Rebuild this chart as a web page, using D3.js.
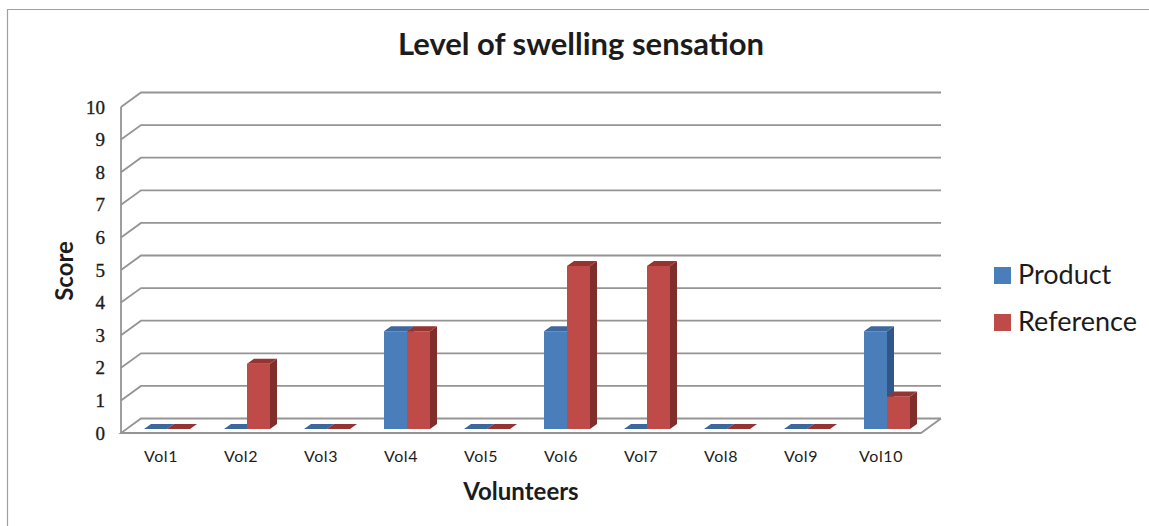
<!DOCTYPE html>
<html>
<head>
<meta charset="utf-8">
<script src="https://cdn.jsdelivr.net/npm/d3@7"></script>
<style>
  html, body { margin: 0; padding: 0; background: #fff; overflow: hidden; }
  text { fill: #1c1c1c; }
</style>
</head>
<body>
<svg id="chart" width="1149" height="526"></svg>
<script>
const categories = ["Vol1", "Vol2", "Vol3", "Vol4", "Vol5", "Vol6", "Vol7", "Vol8", "Vol9", "Vol10"];
const series_names = ["Product", "Reference"];
const product_values = [0, 0, 0, 3, 0, 3, 0, 0, 0, 3];
const reference_values = [0, 2, 0, 3, 0, 5, 5, 0, 0, 1];
const y_ticks = [0, 1, 2, 3, 4, 5, 6, 7, 8, 9, 10];

const width = 1149;
const height = 526;
const grid_color = "#949494";
const label_font = "'Liberation Serif', serif";
const title_font = "Lato, 'Open Sans', sans-serif";

// how far the back wall and the bars are pushed back by the fake 3d
const wall = { dx: 20, dy: -14.5 };
const bar_shift = { dx: 6, dy: -4 };
const bar_depth = { dx: 7, dy: -5 };

const colors = {
  Product: { front: "#4a7ebb", top: "#3c689f", side: "#2f5788" },
  Reference: { front: "#be4b48", top: "#963432", side: "#7f2e2c" },
};

const svg = d3.select("#chart");

const x = d3
  .scaleBand()
  .domain(categories)
  .range([121, 921])
  .paddingInner(0.425)
  .paddingOuter(0.2125);

const x_inner = d3
  .scaleBand()
  .domain(series_names)
  .range([0, x.bandwidth()]);

const y = d3.scaleLinear().domain([0, 10]).range([433, 107]);

// outer frame, only the top and left edges show in the picture
svg
  .append("path")
  .attr("d", d3.line()([[7.5, height], [7.5, 9.5], [width, 9.5]]))
  .attr("fill", "none")
  .attr("stroke", "#a0a0a0")
  .attr("stroke-width", 1.2);

// walls
const walls = svg.append("g").attr("fill", "none").attr("stroke", grid_color).attr("stroke-width", 1.8);
y_ticks.forEach((t) => {
  if (t === 0) return;
  walls
    .append("path")
    .attr(
      "d",
      d3.line()([
        [x.range()[0], y(t)],
        [x.range()[0] + wall.dx, y(t) + wall.dy],
        [x.range()[1] + wall.dx, y(t) + wall.dy],
      ])
    );
});

// floor
walls
  .append("path")
  .attr(
    "d",
    d3.line()([
      [x.range()[1] + wall.dx, y(0) + wall.dy],
      [x.range()[0] + wall.dx, y(0) + wall.dy],
      [x.range()[0], y(0)],
      [x.range()[1], y(0)],
      [x.range()[1] + wall.dx, y(0) + wall.dy],
    ])
  );
walls
  .append("line")
  .attr("x1", x.range()[0])
  .attr("x2", x.range()[0])
  .attr("y1", y(10))
  .attr("y2", y(0));

function draw_bar(g, name, category, value) {
  const c = colors[name];
  const x0 = x(category) + x_inner(name) + bar_shift.dx;
  const x1 = x0 + x_inner.bandwidth();
  const y0 = y(0) + bar_shift.dy;
  const y1 = y(value) + bar_shift.dy;
  const poly = (pts, fill) =>
    g.append("polygon").attr("points", pts.join(" ")).attr("fill", fill);

  if (value > 0) {
    poly(
      [
        [x1, y0],
        [x1 + bar_depth.dx, y0 + bar_depth.dy],
        [x1 + bar_depth.dx, y1 + bar_depth.dy],
        [x1, y1],
      ],
      c.side
    );
    poly([[x0, y0], [x1, y0], [x1, y1], [x0, y1]], c.front);
  }
  poly(
    [
      [x0, y1],
      [x1, y1],
      [x1 + bar_depth.dx, y1 + bar_depth.dy],
      [x0 + bar_depth.dx, y1 + bar_depth.dy],
    ],
    c.top
  );
}

const bars = svg.append("g");
categories.forEach((cat, i) => {
  draw_bar(bars, "Product", cat, product_values[i]);
  draw_bar(bars, "Reference", cat, reference_values[i]);
});

// axes
const y_axis = svg
  .append("g")
  .attr("transform", "translate(105,0)")
  .call(d3.axisLeft(y).tickValues(y_ticks).tickSize(0).tickPadding(0));
y_axis.select(".domain").remove();
y_axis
  .selectAll("text")
  .attr("font-family", label_font)
  .attr("font-size", 19)
  .attr("stroke", "#1c1c1c")
  .attr("stroke-width", 0.35)
  .attr("fill", "#1c1c1c");

const x_axis = svg
  .append("g")
  .attr("transform", "translate(0,451)")
  .call(d3.axisBottom(x).tickSize(0).tickPadding(0));
x_axis.select(".domain").remove();
x_axis
  .selectAll("text")
  .attr("font-family", title_font)
  .attr("font-size", 16)
  .attr("letter-spacing", 0.6)
  .attr("fill", "#1c1c1c");

// titles
svg
  .append("text")
  .attr("x", 581)
  .attr("y", 55)
  .attr("text-anchor", "middle")
  .attr("font-family", title_font)
  .attr("font-weight", "bold")
  .attr("font-size", 31)
  .text("Level of swelling sensation");

svg
  .append("text")
  .attr("x", 521)
  .attr("y", 500)
  .attr("text-anchor", "middle")
  .attr("font-family", title_font)
  .attr("font-weight", "bold")
  .attr("font-size", 24)
  .text("Volunteers");

svg
  .append("text")
  .attr("transform", "translate(73,271) rotate(-90)")
  .attr("text-anchor", "middle")
  .attr("font-family", title_font)
  .attr("font-weight", "bold")
  .attr("font-size", 24)
  .text("Score");

// legend
const legend = svg
  .append("g")
  .selectAll("g")
  .data(series_names)
  .join("g")
  .attr("transform", (d, i) => `translate(994,${267 + i * 47})`);
legend
  .append("rect")
  .attr("width", 17)
  .attr("height", 17)
  .attr("fill", (d) => colors[d].front);
legend
  .append("text")
  .attr("x", 24)
  .attr("y", 17)
  .attr("font-family", title_font)
  .attr("font-size", 27)
  .text((d) => d);
</script>
</body>
</html>
